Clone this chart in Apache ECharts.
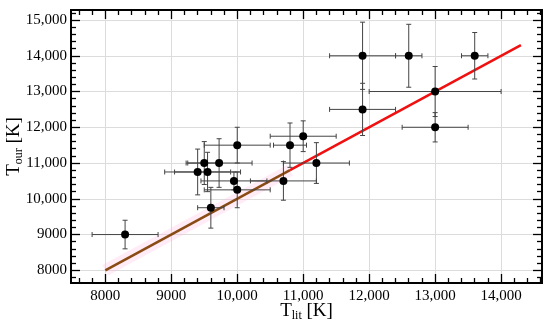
<!DOCTYPE html>
<html><head><meta charset="utf-8">
<script src="https://cdn.jsdelivr.net/npm/echarts@6/dist/echarts.min.js"></script>
<style>html,body{margin:0;padding:0;background:#fff}#c{width:550px;height:323px}</style>
</head><body><div id="c"></div>
<script>
// Data
const tLit  = [8300, 9600, 10000, 9950, 9400, 9550, 9500, 9725, 10000, 10700, 10800, 11000, 11200, 11900, 11900, 12600, 13600, 13000, 13000];
const tOur  = [9000, 9750, 10250, 10500, 10750, 10750, 11000, 11000, 11500, 10500, 11500, 11750, 11000, 14000, 12500, 14000, 14000, 13000, 12000];
const tLitErr = [500, 200, 500, 500, 500, 500, 250, 500, 500, 500, 250, 500, 500, 500, 500, 200, 200, 1000, 500];
const tOurErr = [400, 570, 500, 250, 640, 550, 600, 680, 500, 540, 620, 430, 570, 940, 730, 880, 650, 700, 410];
const lineLower = [8000, 10800];
const lineUpper = [10800, 14300];
const xMajorTicks = [8000, 9000, 10000, 11000, 12000, 13000, 14000];
const yMajorTicks = [8000, 9000, 10000, 11000, 12000, 13000, 14000, 15000];
const xMinorTicks = [7600, 7800, 8200, 8400, 8600, 8800, 9200, 9400, 9600, 9800, 10200, 10400, 10600, 10800, 11200, 11400, 11600, 11800, 12200, 12400, 12600, 12800, 13200, 13400, 13600, 13800, 14200, 14400, 14600];
const yMinorTicks = [7800, 8200, 8400, 8600, 8800, 9200, 9400, 9600, 9800, 10200, 10400, 10600, 10800, 11200, 11400, 11600, 11800, 12200, 12400, 12600, 12800, 13200, 13400, 13600, 13800, 14200, 14400, 14600, 14800, 15200];
const xRange = [7480, 14620];
const yRange = [7645, 15280];

const FONT = '"Liberation Serif", "Times New Roman", serif';
const fmt = v => v >= 10000 ? v.toLocaleString('en-US') : String(v);

function mkAxis(kind, pos, ticks, len, labels, grid, name) {
  const r = kind === 'x' ? xRange : yRange;
  const a = {
    type: 'value', position: pos, min: r[0], max: r[1], gridIndex: 0,
    axisLine: { show: true, onZero: false, lineStyle: { color: '#000', width: 1.8 } },
    axisTick: { show: true, inside: true, length: len, customValues: ticks, lineStyle: { color: '#000', width: 1.3 } },
    axisLabel: labels ? { show: true, customValues: ticks, formatter: fmt, color: '#000', fontFamily: FONT, fontSize: 15, margin: kind === 'x' ? 6 : 4 } : { show: false },
    splitLine: grid ? { show: true, lineStyle: { color: '#dcdcdc', width: 1 } } : { show: false }
  };
  if (name) Object.assign(a, name);
  return a;
}

const nameRich = {
  t: { fontFamily: FONT, fontSize: 19, color: '#000', lineHeight: 21 },
  s: { fontFamily: FONT, fontSize: 12, color: '#000', lineHeight: 12, verticalAlign: 'bottom' }
};
const xName = {
  name: '{t|T}{s|lit}{t| [K]}', nameLocation: 'middle', nameGap: 18, nameMoveOverlap: false,
  nameTextStyle: { rich: nameRich }
};
const yName = {
  name: '{t|T}{s|our}{t| [K]}', nameLocation: 'middle', nameGap: 46, nameRotate: 90, nameMoveOverlap: false,
  nameTextStyle: { rich: nameRich }
};

const pts = tLit.map((x, i) => [x, tOur[i], tLitErr[i], tOurErr[i]]);

const option = {
  animation: false,
  backgroundColor: '#fff',
  grid: { left: 71, right: 8, top: 10, bottom: 40, containLabel: false, outerBoundsMode: 'none' },
  xAxis: [
    mkAxis('x', 'bottom', xMajorTicks, 9, true, true, xName),
    mkAxis('x', 'top', xMajorTicks, 9, false, false),
    mkAxis('x', 'bottom', xMinorTicks, 5, false, false),
    mkAxis('x', 'top', xMinorTicks, 5, false, false)
  ],
  yAxis: [
    mkAxis('y', 'left', yMajorTicks, 9, true, true, yName),
    mkAxis('y', 'right', yMajorTicks, 9, false, false),
    mkAxis('y', 'left', yMinorTicks, 5, false, false),
    mkAxis('y', 'right', yMinorTicks, 5, false, false)
  ],
  series: [
    { type: 'line', data: lineLower.map(v => [v, v]), symbol: 'none', z: 2,
      lineStyle: { color: 'rgba(255,180,220,0.25)', width: 12 } },
    { type: 'line', data: lineLower.map(v => [v, v]), symbol: 'none', z: 3,
      lineStyle: { color: '#8a4a14', width: 2.5 } },
    { type: 'line', data: lineUpper.map(v => [v, v]), symbol: 'none', z: 3,
      lineStyle: { color: '#f01010', width: 2.5 } },
    { type: 'custom', data: pts, z: 4,
      renderItem: function (params, api) {
        const x = api.value(0), y = api.value(1), ex = api.value(2), ey = api.value(3);
        const l = api.coord([x - ex, y]), r = api.coord([x + ex, y]);
        const t = api.coord([x, y + ey]), b = api.coord([x, y - ey]);
        const c = 2.5;
        const st = { stroke: '#444', lineWidth: 1 };
        const L = (x1, y1, x2, y2) => ({ type: 'line', shape: { x1, y1, x2, y2 }, style: st });
        return { type: 'group', children: [
          L(l[0], l[1], r[0], r[1]), L(l[0], l[1] - c, l[0], l[1] + c), L(r[0], r[1] - c, r[0], r[1] + c),
          L(t[0], t[1], b[0], b[1]), L(t[0] - c, t[1], t[0] + c, t[1]), L(b[0] - c, b[1], b[0] + c, b[1])
        ] };
      }
    },
    { type: 'scatter', data: pts.map(p => [p[0], p[1]]), symbol: 'circle', symbolSize: 8, z: 5,
      itemStyle: { color: '#000', opacity: 1 } }
  ]
};
echarts.init(document.getElementById('c'), null, { renderer: 'canvas' }).setOption(option);
</script></body></html>
